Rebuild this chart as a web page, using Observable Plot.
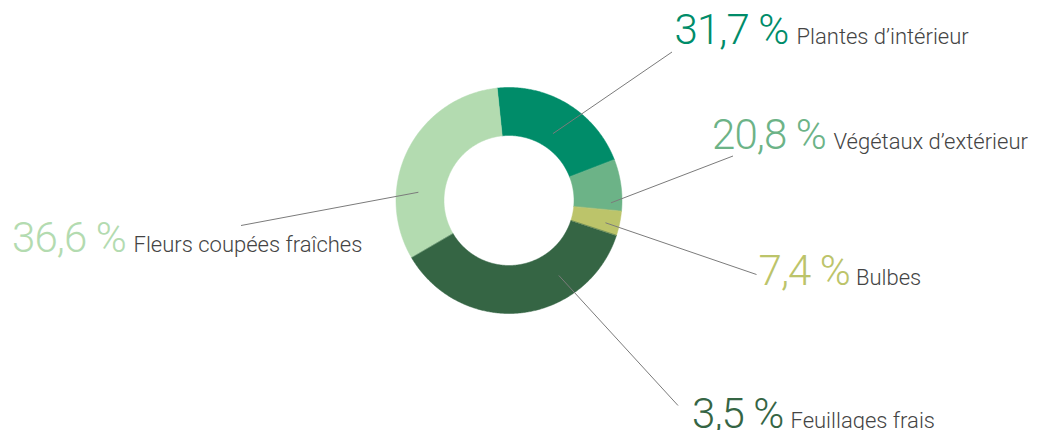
<!DOCTYPE html>
<html>
<head>
<meta charset="utf-8">
<script src="https://cdn.jsdelivr.net/npm/d3@7"></script>
<script src="https://cdn.jsdelivr.net/npm/@observablehq/plot@0.6"></script>
<style>
  html, body { margin: 0; padding: 0; background: #fff; }
  svg { display: block; }
  svg g[font-size="42"] { letter-spacing: -0.9px; }
</style>
</head>
<body>
<div id="chart"></div>
<script>
// ---- Data ----
const categories = ["Plantes d’intérieur", "Végétaux d’extérieur", "Bulbes", "Feuillages frais", "Fleurs coupées fraîches"];
// arc sizes as drawn in the ring (clockwise)
const sliceShares = [20.8, 7.4, 3.5, 36.6, 31.7];
// percentages as printed next to each category
const labelShares = [31.7, 20.8, 7.4, 3.5, 36.6];
const colors = ["#008c69", "#6cb387", "#bcc46a", "#356544", "#b3dbb0"];

// ---- Layout (pixels relative to ring centre, y downward) ----
const startAngleDeg = -6;
const outerR = 113, innerR = 65;
const labelPos = [ // percentage start x, baseline y
  [165.5, -157],
  [203, -52],
  [-497, 51],
  [249.5, 84.5],
  [183, 227.5]
];
const leaderStart = [ // [angle deg, radius]
  [33.3, 80], [91.3, 102], [275.2, 91], [103, 99], [146.4, 90]
];
const leaderEnd = [
  [163, -148.5], [224, -44.5], [-268, 25], [247.5, 74], [169, 205]
];
const nameOffset = [122, 121.5, 121.5, 97.5, 98.5];
const labelOrder = [0, 1, 4, 2, 3]; // index into categories for each label row

const pct = v => d3.format(".1f")(v).replace(".", ",") + " %";

// slice polygons
const total = d3.sum(sliceShares);
const polys = [];
let acc = 0;
sliceShares.forEach((v, i) => {
  const a0 = startAngleDeg + acc / total * 360;
  acc += v;
  const a1 = startAngleDeg + acc / total * 360;
  const n = Math.max(4, Math.ceil((a1 - a0) / 0.5));
  const pts = [];
  for (let k = 0; k <= n; k++) {
    const a = (a0 + (a1 - a0) * k / n) * Math.PI / 180;
    pts.push({x: outerR * Math.sin(a), y: -outerR * Math.cos(a), i});
  }
  for (let k = n; k >= 0; k--) {
    const a = (a0 + (a1 - a0) * k / n) * Math.PI / 180;
    pts.push({x: innerR * Math.sin(a), y: -innerR * Math.cos(a), i});
  }
  polys.push(pts);
});

const labels = labelOrder.map((ci, r) => ({
  ci,
  x: labelPos[r][0],
  y: labelPos[r][1],
  pct: pct(labelShares[ci]),
  name: categories[ci],
  color: colors[ci],
  nx: labelPos[r][0] + nameOffset[r]
}));

const leaders = labelOrder.map((ci, r) => {
  const a = leaderStart[r][0] * Math.PI / 180, rr = leaderStart[r][1];
  return {x1: rr * Math.sin(a), y1: -rr * Math.cos(a), x2: leaderEnd[r][0], y2: leaderEnd[r][1]};
});

const cx = 508.5, cy = 200;
const W = 1041, H = 430;

const numFont = "Roboto, 'Open Sans', sans-serif";
const nameFont = "Roboto, 'Open Sans', sans-serif";

const chart = Plot.plot({
  width: W,
  height: H,
  margin: 0,
  x: {domain: [-cx, W - cx], range: [0, W], axis: null},
  y: {domain: [-cy, H - cy], range: [0, H], axis: null},
  marks: [
    ...polys.map((p, i) => Plot.line(p, {x: "x", y: "y", fill: colors[i], stroke: colors[i], strokeWidth: 0.5, curve: "linear-closed"})),
    Plot.link(leaders, {x1: "x1", y1: "y1", x2: "x2", y2: "y2", stroke: "#7b7b7b", strokeWidth: 1}),
    Plot.text(labels, {x: "x", y: "y", text: "pct", fill: "color", textAnchor: "start", lineAnchor: "bottom", fontSize: 42, fontWeight: 300, fontFamily: numFont}),
    Plot.text(labels, {x: "nx", y: "y", text: "name", fill: "#444444", textAnchor: "start", lineAnchor: "bottom", fontSize: 22, fontWeight: 300, fontFamily: nameFont})
  ]
});
document.getElementById("chart").appendChild(chart);
</script>
</body>
</html>
